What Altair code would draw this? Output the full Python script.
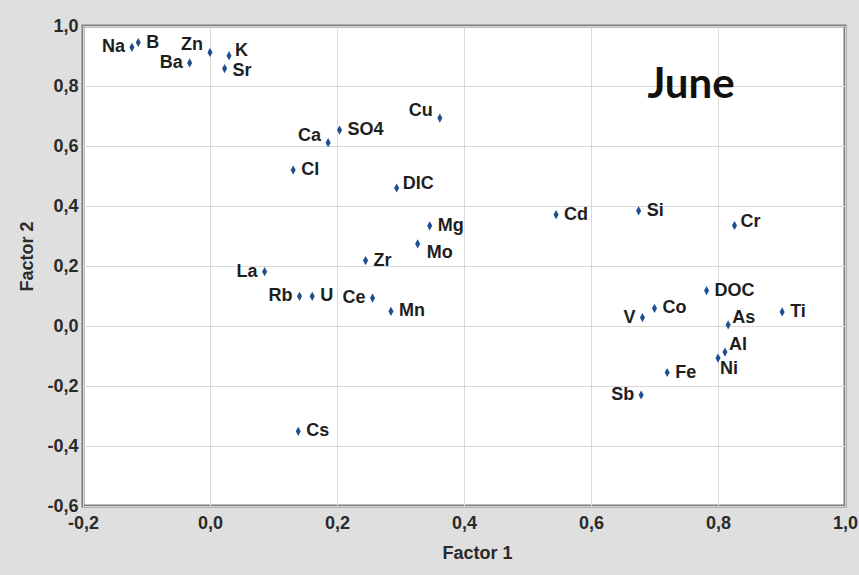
import altair as alt
import pandas as pd

# Factor loadings (Factor 1, Factor 2) for each measured parameter
elements = ["Na", "B", "Zn", "Ba", "K", "Sr", "Cu", "SO4", "Ca", "Cl",
            "DIC", "Cd", "Si", "Cr", "Mg", "Mo", "Zr", "La", "Rb", "U",
            "Ce", "Mn", "DOC", "Co", "V", "As", "Ti", "Al", "Ni", "Fe",
            "Sb", "Cs"]
factor1 = [-0.123, -0.113, 0.000, -0.032, 0.030, 0.023, 0.362, 0.204, 0.186, 0.131,
           0.294, 0.545, 0.675, 0.826, 0.346, 0.327, 0.245, 0.086, 0.141, 0.161,
           0.256, 0.285, 0.782, 0.700, 0.681, 0.816, 0.901, 0.811, 0.800, 0.720,
           0.679, 0.139]
factor2 = [0.929, 0.945, 0.912, 0.877, 0.901, 0.858, 0.693, 0.653, 0.611, 0.520,
           0.460, 0.371, 0.384, 0.335, 0.334, 0.274, 0.218, 0.181, 0.099, 0.099,
           0.093, 0.049, 0.118, 0.059, 0.028, 0.004, 0.047, -0.087, -0.107, -0.155,
           -0.230, -0.351]

x_ticks = [-0.2, 0.0, 0.2, 0.4, 0.6, 0.8, 1.0]
y_ticks = [-0.6, -0.4, -0.2, 0.0, 0.2, 0.4, 0.6, 0.8, 1.0]
panel_title = "June"

df = pd.DataFrame({"element": elements, "f1": factor1, "f2": factor2})

FONT = "Liberation Sans"
TEXT_COLOR = "#1e1e1e"
MARK_COLOR = "#1d4f91"

# decimal comma, plain hyphen for negatives
comma_label = ("(datum.value < 0 ? '-' : '') + "
               "replace(format(abs(datum.value), '.1f'), '.', ',')")

x_enc = alt.X(
    "f1:Q",
    scale=alt.Scale(domain=[-0.2, 1.0], nice=False, zero=False),
    axis=alt.Axis(values=x_ticks, labelExpr=comma_label, title="Factor 1",
                  labelPadding=8, labelFlush=False, labelOverlap=False,
                  titleX=394, titleY=52, titleBaseline="alphabetic",
                  titleAlign="center"),
)
y_enc = alt.Y(
    "f2:Q",
    scale=alt.Scale(domain=[-0.6, 1.0], nice=False, zero=False),
    axis=alt.Axis(values=y_ticks, labelExpr=comma_label, title="Factor 2",
                  labelPadding=5, labelFlush=False, labelOverlap=False,
                  titleX=-56, titleY=230, titleBaseline="middle",
                  titleAlign="center", titleAngle=270),
)

base = alt.Chart(df).encode(x=x_enc, y=y_enc)

# slim vertical diamond marker
points = base.mark_point(
    shape="M0,-1L0.55,0L0,1L-0.55,0Z",
    filled=True, size=85, color=MARK_COLOR, opacity=1,
)


def labels(names, dx, dy, align):
    return base.transform_filter(
        alt.FieldOneOfPredicate(field="element", oneOf=names)
    ).mark_text(
        align=align, baseline="middle", dx=dx, dy=dy,
        font=FONT, fontSize=18, fontWeight="bold", color=TEXT_COLOR,
    ).encode(text="element:N")


label_layers = [
    labels(["B", "SO4", "Cl", "Cd", "Si", "Mg", "Zr", "U", "Mn",
            "DOC", "Co", "Ti", "Fe", "Cs"], 8, 0, "left"),
    labels(["Sr"], 8, 2, "left"),
    labels(["K"], 6, -5, "left"),
    labels(["DIC", "Cr"], 6, -4, "left"),
    labels(["As", "Al"], 4, -7, "left"),
    labels(["Mo"], 9, 9, "left"),
    labels(["Ni"], 2, 11, "left"),
    labels(["Na", "Ba", "La", "Rb", "Ce", "V", "Sb"], -7, 0, "right"),
    labels(["Zn", "Cu", "Ca"], -7, -7, "right"),
]

title_mark = alt.Chart(pd.DataFrame({"t": [panel_title]})).mark_text(
    font="Lato", fontSize=42, fontWeight="bold", color="#111111",
    align="center", baseline="alphabetic",
).encode(x=alt.value(608), y=alt.value(72), text="t:N")

chart = alt.layer(points, *label_layers, title_mark).properties(
    width=762,
    height=480,
    autosize=alt.AutoSizeParams(type="none"),
    padding={"left": 83, "top": 26, "right": 14, "bottom": 69},
    background="#dfdfdf",
).configure_view(
    fill="white", stroke="#7d7d7d", strokeWidth=3,
).configure_axis(
    grid=True, gridColor="#d9d9d9", gridWidth=1,
    domain=False, ticks=False,
    labelFont=FONT, labelFontSize=18, labelFontWeight="bold", labelColor="#2a2a2a",
    titleFont=FONT, titleFontSize=18, titleFontWeight="bold", titleColor="#2a2a2a",
)

chart.save("out.html", embed_options={"renderer": "svg", "actions": False})
